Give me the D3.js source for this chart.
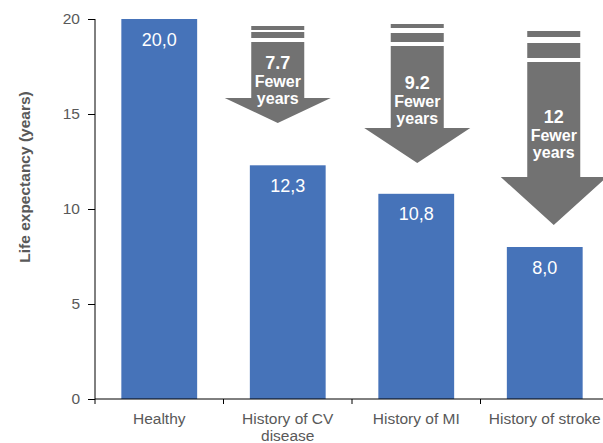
<!DOCTYPE html>
<html>
<head>
<meta charset="utf-8">
<script src="https://cdn.jsdelivr.net/npm/d3@7"></script>
<style>
  body { margin: 0; background: #fff; }
  text { font-family: "Liberation Sans", Arial, sans-serif; }
</style>
</head>
<body>
<div id="chart"></div>
<script>
// chart values
var categories = ["Healthy", "History of CV disease", "History of MI", "History of stroke"];
var lifeExpectancy = [20.0, 12.3, 10.8, 8.0];
var valueLabels = ["20,0", "12,3", "10,8", "8,0"];
var fewerYears = ["", "7.7", "9.2", "12"];
var yTicks = [0, 5, 10, 15, 20];

var width = 603, height = 443;
var margin = {top: 19, left: 95, bottom: 44};

var svg = d3.select("#chart").append("svg")
  .attr("width", width)
  .attr("height", height);

var x = d3.scaleBand()
  .domain(categories)
  .range([margin.left, margin.left + 4 * 128.5])
  .paddingInner(0.41)
  .paddingOuter(0.205);

var y = d3.scaleLinear()
  .domain([0, 20])
  .range([height - margin.bottom, margin.top]);

// bars
svg.selectAll(".bar")
  .data(categories)
  .enter()
  .append("rect")
  .attr("class", "bar")
  .attr("x", function (d) { return x(d); })
  .attr("y", function (d, i) { return y(lifeExpectancy[i]); })
  .attr("width", x.bandwidth())
  .attr("height", function (d, i) { return y(0) - y(lifeExpectancy[i]); })
  .attr("fill", "#4673B9");

svg.selectAll(".val")
  .data(categories)
  .enter()
  .append("text")
  .attr("x", function (d) { return x(d) + x.bandwidth() / 2; })
  .attr("y", function (d, i) { return y(lifeExpectancy[i]) + 26.5; })
  .attr("text-anchor", "middle")
  .attr("fill", "#fff")
  .style("font-size", "18px")
  .text(function (d, i) { return valueLabels[i]; });

// y axis
var yAxis = svg.append("g")
  .attr("transform", "translate(" + margin.left + ",0)")
  .call(d3.axisLeft(y).tickValues(yTicks).tickSize(7).tickPadding(8).tickFormat(d3.format("d")));
yAxis.select(".domain").attr("stroke", "#000").attr("d", "M0," + y(0) + "V" + y(20));
yAxis.selectAll(".tick line").attr("stroke", "#000");
yAxis.selectAll(".tick text").attr("fill", "#595959").style("font-size", "15.5px")
  .style("font-family", "Liberation Sans, Arial, sans-serif");

// x axis: ticks sit on band boundaries
var xAxisG = svg.append("g")
  .attr("transform", "translate(0," + y(0) + ")");
xAxisG.append("line")
  .attr("x1", margin.left).attr("x2", width)
  .attr("stroke", "#000");
var step = x.step();
xAxisG.selectAll(".xt")
  .data(categories)
  .enter()
  .append("line")
  .attr("x1", function (d) { return x(d) - step * 0.205; })
  .attr("x2", function (d) { return x(d) - step * 0.205; })
  .attr("y1", 0).attr("y2", 5)
  .attr("stroke", "#000");

var labels = xAxisG.selectAll(".xl")
  .data(categories)
  .enter()
  .append("text")
  .attr("text-anchor", "middle")
  .attr("fill", "#595959")
  .style("font-size", "15.5px")
  .attr("y", 25);
labels.each(function (d) {
  var t = d3.select(this);
  var cx = x(d) + x.bandwidth() / 2;
  var lines = d === "History of CV disease" ? ["History of CV", "disease"] : [d];
  lines.forEach(function (s, k) {
    t.append("tspan").attr("x", cx).attr("dy", k === 0 ? 0 : 16.5).text(s);
  });
});

// y axis title
svg.append("text")
  .attr("transform", "translate(30,177) rotate(-90)")
  .attr("text-anchor", "middle")
  .attr("fill", "#595959")
  .style("font-size", "15.5px")
  .style("font-weight", "bold")
  .text("Life expectancy (years)");

// down arrows showing fewer years
var arrowGray = "#727272";
var arrowLayout = [null,
  {dx: -10, s1: 26, s2: 32, top: 42, neck: 98, tip: 123, tdy: -1},
  {dx: 1, s1: 24, s2: 33, top: 46, neck: 128, tip: 163, tdy: 1.5},
  {dx: 9, s1: 31, s2: 43, top: 62, neck: 177, tip: 225, tdy: 3.5}];

categories.forEach(function (c, i) {
  var a = arrowLayout[i];
  if (!a) return;
  var cx = x(c) + x.bandwidth() / 2 + a.dx;
  var bw = 26.5, hw = 53;
  var g = svg.append("g");
  g.append("rect").attr("x", cx - bw).attr("y", a.s1).attr("width", 2 * bw).attr("height", a.s1 < 30 ? 4 : 6).attr("fill", arrowGray);
  g.append("rect").attr("x", cx - bw).attr("y", a.s2).attr("width", 2 * bw).attr("height", a.top - a.s2 - 4).attr("fill", arrowGray);
  var p = d3.path();
  p.moveTo(cx - bw, a.top);
  p.lineTo(cx + bw, a.top);
  p.lineTo(cx + bw, a.neck);
  p.lineTo(cx + hw, a.neck);
  p.lineTo(cx, a.tip);
  p.lineTo(cx - hw, a.neck);
  p.lineTo(cx - bw, a.neck);
  p.closePath();
  g.append("path").attr("d", p.toString()).attr("fill", arrowGray);

  var ty = (a.top + a.neck) / 2 + a.tdy;
  var t = g.append("text")
    .attr("text-anchor", "middle")
    .attr("fill", "#fff")
    .style("font-weight", "bold");
  t.append("tspan").attr("x", cx).attr("y", ty).style("font-size", "18px").text(fewerYears[i]);
  t.append("tspan").attr("x", cx).attr("dy", 18).style("font-size", "16px").text("Fewer");
  t.append("tspan").attr("x", cx).attr("dy", 17).style("font-size", "16px").text("years");
});
</script>
</body>
</html>
